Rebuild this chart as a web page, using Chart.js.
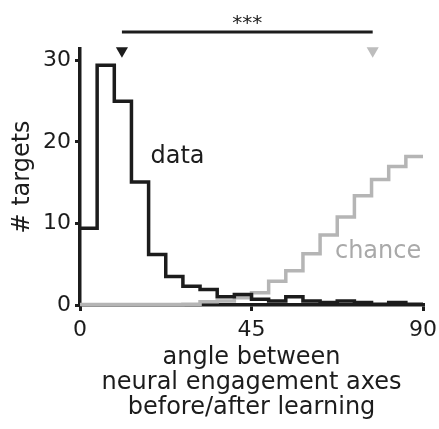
<!DOCTYPE html>
<html>
<head>
<meta charset="utf-8">
<script src="https://cdn.jsdelivr.net/npm/chart.js@4"></script>
<style>
  body { margin: 0; background: #fff; }
  canvas { display: block; }
</style>
</head>
<body>
<canvas id="chart" width="439" height="429"></canvas>
<script>
// histogram bins (degrees)
const binEdges = [0, 4.5, 9, 13.5, 18, 22.5, 27, 31.5, 36, 40.5, 45, 49.5, 54, 58.5, 63, 67.5, 72, 76.5, 81, 85.5, 90];
// # targets per bin
const dataCounts = [9.4, 29.4, 25.0, 15.1, 6.2, 3.5, 2.3, 1.9, 1.0, 1.3, 0.7, 0.5, 1.0, 0.5, 0.3, 0.5, 0.3, 0.1, 0.3, 0.1];
const chanceCounts = [0.05, 0.05, 0.05, 0.05, 0.05, 0.05, 0.1, 0.4, 0.5, 0.9, 1.5, 2.9, 4.2, 6.3, 8.6, 10.8, 13.4, 15.4, 17.0, 18.2];
// medians (triangles) : data, chance
const medians = [11, 76.8];
const yTicks = [0, 10, 20, 30];
const xTicks = [0, 45, 90];

const markerY = 31.2;
const sigBarY = 33.5;

const BLACK = "#1c1c1c";
const GREY = "#b5b5b5";
const FONT = "'DejaVu Sans', sans-serif";

// step outline: value of each bin starts at its left edge, last one held to 90
function stepPoints(counts) {
  const pts = counts.map((c, i) => ({ x: binEdges[i], y: c }));
  pts.push({ x: binEdges[binEdges.length - 1], y: counts[counts.length - 1] });
  return pts;
}

const annotations = {
  id: "annotations",
  afterDatasetsDraw(chart) {
    const { ctx, scales } = chart;
    const x = scales.x, y = scales.y;
    ctx.save();
    ctx.font = "24px " + FONT;
    ctx.textAlign = "left";
    ctx.textBaseline = "alphabetic";
    ctx.fillStyle = BLACK;
    ctx.fillText("data", x.getPixelForValue(18.5), y.getPixelForValue(17.4));
    ctx.fillStyle = "#a9a9a9";
    ctx.fillText("chance", x.getPixelForValue(66.9), y.getPixelForValue(5.8));

    ctx.font = "20px " + FONT;
    ctx.textAlign = "center";
    ctx.fillStyle = BLACK;
    const mid = (x.getPixelForValue(medians[0]) + x.getPixelForValue(medians[1])) / 2;
    ctx.fillText("***", mid, y.getPixelForValue(sigBarY) - 3);
    ctx.restore();
  },
};

new Chart(document.getElementById("chart"), {
  type: "line",
  data: {
    datasets: [
      {
        label: "data",
        data: stepPoints(dataCounts),
        stepped: "before",
        borderColor: BLACK,
        borderWidth: 3.5,
        pointRadius: 0,
        fill: false,
        clip: false,
      },
      {
        label: "chance",
        data: stepPoints(chanceCounts),
        stepped: "before",
        borderColor: GREY,
        borderWidth: 3.5,
        pointRadius: 0,
        fill: false,
        clip: false,
      },
      {
        label: "significance",
        data: medians.map((m) => ({ x: m, y: sigBarY })),
        borderColor: BLACK,
        borderWidth: 3,
        pointRadius: 0,
        clip: false,
      },
      {
        type: "scatter",
        label: "medians",
        data: medians.map((m) => ({ x: m, y: markerY })),
        pointStyle: "triangle",
        rotation: 180,
        pointRadius: 7,
        backgroundColor: [BLACK, "#bdbdbd"],
        borderColor: [BLACK, "#bdbdbd"],
        borderWidth: 0,
        clip: false,
      },
    ],
  },
  options: {
    responsive: false,
    animation: false,
    layout: { padding: { top: 49, right: 16, bottom: 0, left: 0 } },
    plugins: {
      legend: { display: false },
      tooltip: { enabled: false },
    },
    scales: {
      x: {
        type: "linear",
        min: 0,
        max: 90,
        afterBuildTicks: (s) => { s.ticks = xTicks.map((v) => ({ value: v })); },
        afterFit: (s) => {
          s.height = 124;
          s.paddingLeft = 0;
          s.paddingRight = 0;
        },
        grid: { drawOnChartArea: false, color: BLACK, lineWidth: 3, tickLength: 6 },
        border: { color: BLACK, width: 3.5 },
        ticks: { color: BLACK, font: { family: FONT, size: 22 }, padding: 6, maxRotation: 0 },
        title: {
          display: true,
          text: ["angle between", "neural engagement axes", "before/after learning"],
          color: BLACK,
          font: { family: FONT, size: 24, lineHeight: "25px" },
          padding: { top: 0, bottom: 9 },
        },
      },
      y: {
        min: 0,
        max: 31.4,
        afterBuildTicks: (s) => { s.ticks = yTicks.map((v) => ({ value: v })); },
        afterFit: (s) => { s.width = 80; },
        grid: { drawOnChartArea: false, color: BLACK, lineWidth: 3, tickLength: 5 },
        border: { color: BLACK, width: 3.5 },
        ticks: { color: BLACK, font: { family: FONT, size: 22 }, padding: 4 },
        title: {
          display: true,
          text: "# targets",
          color: BLACK,
          font: { family: FONT, size: 24, lineHeight: 1.2 },
          padding: { top: 8, bottom: 0 },
        },
      },
    },
  },
  plugins: [annotations],
});
</script>
</body>
</html>
